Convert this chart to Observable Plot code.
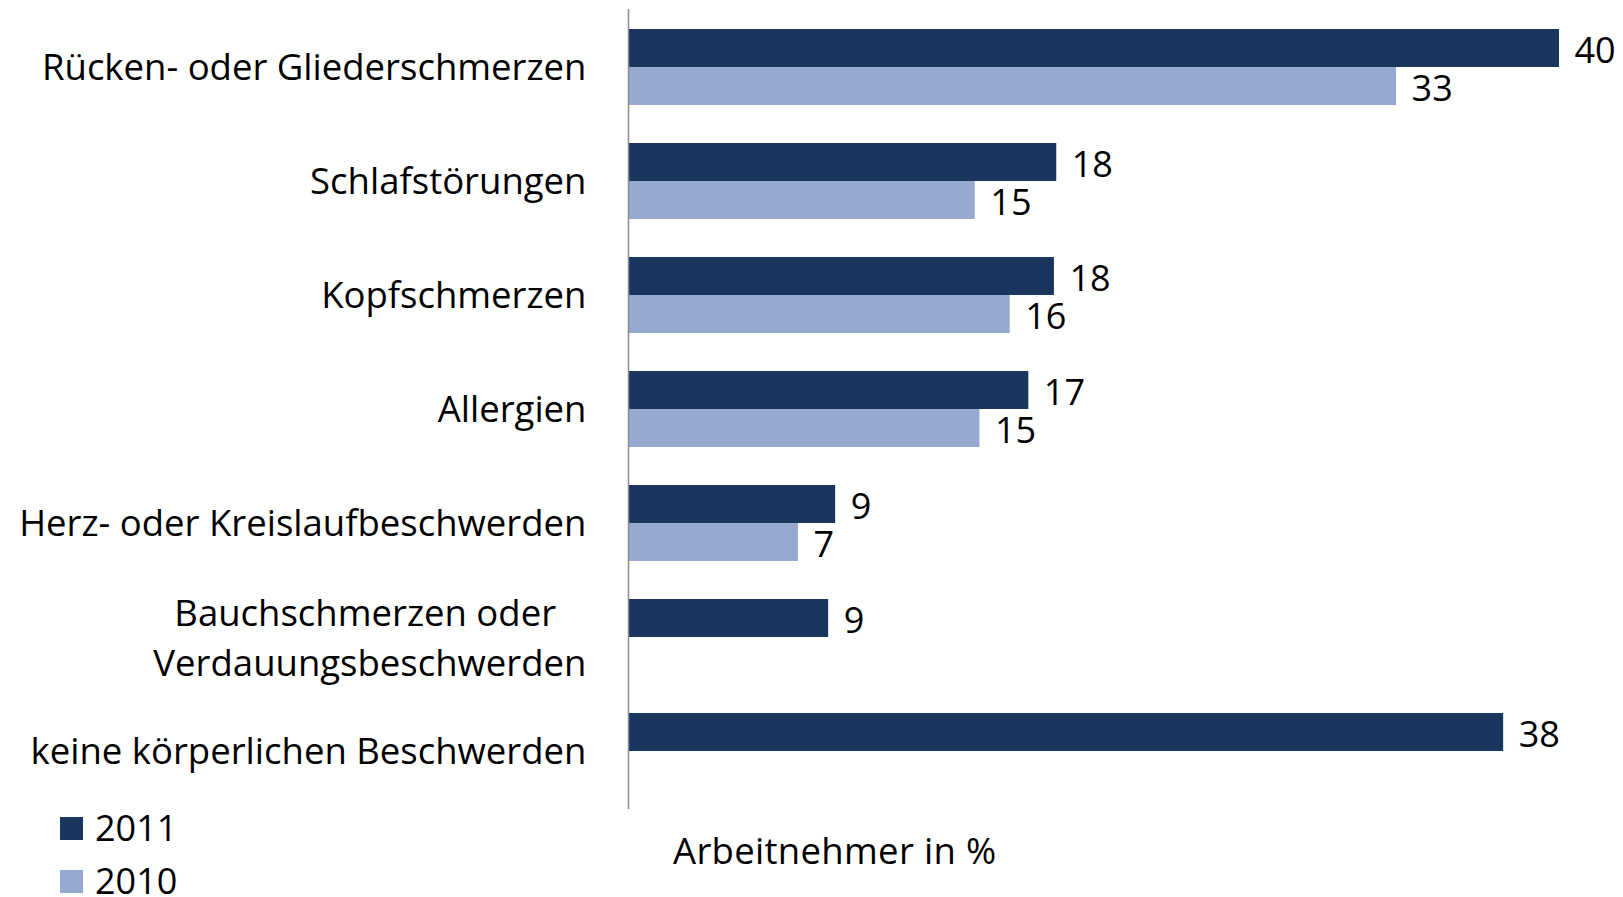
<!DOCTYPE html>
<html>
<head>
<meta charset="utf-8">
<script src="https://cdn.jsdelivr.net/npm/d3@7"></script>
<script src="https://cdn.jsdelivr.net/npm/@observablehq/plot@0.6"></script>
<style>
  html, body { margin: 0; padding: 0; background: #fff; }
  #wrap { position: relative; width: 1623px; height: 897px; overflow: hidden; font-family: "Open Sans", sans-serif; color: #000; }
  #chart { position: absolute; left: 0; top: 0; }
  .leg { position: absolute; left: 60px; font-size: 36px; line-height: 1; display: flex; align-items: center; }
  .sw { width: 23px; height: 23px; margin-right: 12px; }
  #xlabel { position: absolute; left: 673px; top: 832px; font-size: 36.5px; line-height: 1; letter-spacing: 0.3px; }
</style>
</head>
<body>
<div id="wrap">
  <div id="chart"></div>
  <div class="leg" style="top:810px"><div class="sw" style="background:#19375E"></div><span>2011</span></div>
  <div class="leg" style="top:863px"><div class="sw" style="background:#95A9D1"></div><span>2010</span></div>
  <div id="xlabel">Arbeitnehmer in %</div>
</div>
<script>
const categories = [
  "Rücken- oder Gliederschmerzen",
  "Schlafstörungen",
  "Kopfschmerzen",
  "Allergien",
  "Herz- oder Kreislaufbeschwerden",
  "Bauchschmerzen oder \nVerdauungsbeschwerden",
  "keine körperlichen Beschwerden"
];
const years = ["2011", "2010"];
const values2011 = [40, 18.4, 18.3, 17.2, 8.9, 8.6, 37.6];
const values2010 = [33, 14.9, 16.4, 15.1, 7.3, null, null];
const colors = ["#19375E", "#95A9D1"];

const FONT = 36.5;
const keys = [];
categories.forEach((c, i) => {
  keys.push(`${i}-2011`, `${i}-2010`);
  if (i < categories.length - 1) keys.push(`gap${i}`);
});

const rows = [];
categories.forEach((c, i) => {
  if (values2011[i] != null) rows.push({key: `${i}-2011`, year: "2011", value: values2011[i]});
  if (values2010[i] != null) rows.push({key: `${i}-2010`, year: "2010", value: values2010[i]});
});

const catRows = categories.map((c, i) => ({key: `${i}-2011`, label: c, multi: c.includes("\n"), last: i === categories.length - 1}));

// measure widest line of multi-line label to center it like the original
const ctx = document.createElement("canvas").getContext("2d");
ctx.font = `${FONT}px "Open Sans"`;
function maxLineWidth(s) { return Math.max(...s.split("\n").map(l => ctx.measureText(l.trim()).width)); }

const gapLeft = 42;
const plot = Plot.plot({
  width: 1623,
  height: 897,
  marginLeft: 628,
  marginRight: 64,
  marginTop: 9,
  marginBottom: 88,
  x: {domain: [0, 40], axis: null},
  y: {domain: keys, type: "band", paddingInner: 0, paddingOuter: 0.5, axis: null},
  color: {domain: years, range: colors},
  style: {fontFamily: '"Open Sans", sans-serif', background: "transparent"},
  marks: [
    Plot.barX(rows, {x: "value", y: "key", fill: "year"}),
    Plot.ruleX([0], {stroke: "#8c8c8c", strokeWidth: 1.5}),
    Plot.text(rows, {x: "value", y: "key", text: d => String(Math.round(d.value)), textAnchor: "start", dx: 15, dy: 3, fontSize: 36, fill: "#000"}),
    Plot.text(catRows.filter(d => !d.multi), {x: 0, y: "key", dy: d => 0, text: "label", textAnchor: "end", fontSize: FONT, fill: "#000",
      dx: -gapLeft, dy: 20}),
    ...catRows.filter(d => d.multi).map(d =>
      Plot.text([d], {x: 0, y: "key", dy: 16, dx: -gapLeft - maxLineWidth(d.label) / 2, text: "label", textAnchor: "middle", lineHeight: 1.37, fontSize: FONT, fill: "#000"})
    )
  ]
});
document.getElementById("chart").appendChild(plot);
</script>
</body>
</html>
